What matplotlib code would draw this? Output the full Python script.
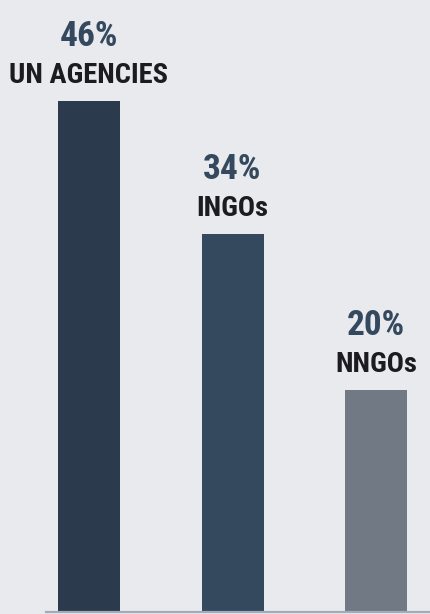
import matplotlib
matplotlib.use("Agg")
import matplotlib.pyplot as plt
from matplotlib import font_manager

categories = ["UN AGENCIES", "INGOs", "NNGOs"]
shares = [46, 34, 20]
bar_colors = ["#2b3a4c", "#34495e", "#717984"]

# pick a narrow bold face if one is around
names = {f.name for f in font_manager.fontManager.ttflist}
family = next((n for n in ["Roboto Condensed", "Liberation Sans Narrow", "DejaVu Sans"] if n in names), "DejaVu Sans")

bg = "#e9eaee"
fig = plt.figure(figsize=(4.31, 6.14), dpi=100, facecolor=bg)
ax = fig.add_axes([0, 2 / 614, 1, 612 / 614])
ax.set_facecolor(bg)

xs = range(len(categories))
ax.bar(xs, shares, width=0.432, color=bar_colors, zorder=2)

for x, v, name in zip(xs, shares, categories):
    ax.annotate(name, (x, v), xytext=(0, 13), textcoords="offset points",
                ha="center", va="baseline", fontsize=20.5, fontweight="bold",
                color="#1c1c1e", family=family)
    ax.annotate(f"{v}%", (x, v), xytext=(0, 39.5), textcoords="offset points",
                ha="center", va="baseline", fontsize=25.5, fontweight="bold",
                color="#34495e", family=family)

ax.axhline(0, xmin=46 / 431, xmax=1, color="#a2acb8", lw=1.6, zorder=3, clip_on=False)

ax.set_xlim(-0.62, 2.383)
ax.set_ylim(0, 55.1)
ax.axis("off")

fig.savefig("out.png", dpi=100, facecolor=bg)
